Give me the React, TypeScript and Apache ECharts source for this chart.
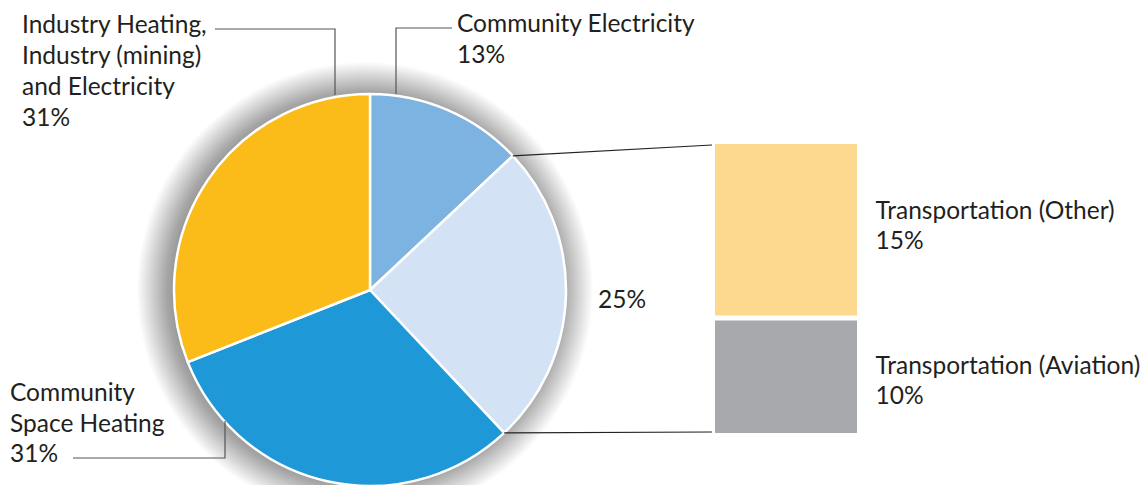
import React, { useEffect, useRef } from "react";
import * as echarts from "echarts";

const sliceNames = ["Community Electricity", "Transportation", "Community Space Heating", "Industry Heating, Industry (mining) and Electricity"];
const sliceValues = [13, 25, 31, 31];
const sliceLabelLines = [["Community Electricity"], [], ["Community", "Space Heating"], ["Industry Heating,", "Industry (mining)", "and Electricity"]];
const sliceColors = ["#7DB3E1", "#D3E3F5", "#1E98D6", "#FBBC1A"];

const transportNames = ["Transportation (Other)", "Transportation (Aviation)"];
const transportValues = [15, 10];
const transportColors = ["#FDD98F", "#A7A9AC"];

const FONT = "Lato";
const FS = 24.5;
const TXT = "#231F20";

export default function App() {
  const ref = useRef<HTMLDivElement>(null);
  useEffect(() => {
    if (!ref.current) return;
    const chart = echarts.init(ref.current, null, { renderer: "svg" });
    const cx = 370, cy = 290, R = 196;
    const total = sliceValues.reduce((a, b) => a + b, 0);
    const edgePoint = (cum: number) => {
      const a = (cum / total) * Math.PI * 2;
      return [cx + R * Math.sin(a), cy - R * Math.cos(a)];
    };
    const p1 = edgePoint(sliceValues[0]);
    const p2 = edgePoint(sliceValues[0] + sliceValues[1]);
    const lbl = (i: number) => [...sliceLabelLines[i], sliceValues[i] + "%"].join("\n");
    const lineStyle = { stroke: "#555", lineWidth: 1.2, fill: null };
    const textStyle = (text: string, x: number, y: number, lh = 31) => ({
      type: "text", x, y, silent: true, z: 10,
      style: { text, font: `${FS}px ${FONT}`, fill: TXT, lineHeight: lh, verticalAlign: "top", align: "left" },
    });
    const labelOffsets = [[0, -5], [0, 3]];
    // soft drop shadow: stacked translucent discs
    const shadowCx = cx - 5;
    const shadowSteps = 38;
    const shadowDiscs = Array.from({ length: shadowSteps }, (_, k) => ({
      type: "circle", silent: true, z: 0,
      shape: { cx: shadowCx, cy, r: R - 6 + shadowSteps - k },
      style: { fill: "rgba(0,0,0,0.0135)" },
    }));
    chart.setOption({
      animation: false,
      grid: { left: 712.5, top: 141.5, width: 147, height: 294 },
      xAxis: { type: "category", data: ["Transportation"], show: false },
      yAxis: { type: "value", min: 0, max: 25, show: false },
      series: [
        {
          type: "pie", z: 2, center: [cx, cy], radius: R, startAngle: 90, clockwise: true,
          label: { show: false }, labelLine: { show: false },
          itemStyle: { borderColor: "#fff", borderWidth: 2.5 },
          data: sliceNames.map((n, i) => ({ name: n, value: sliceValues[i], itemStyle: { color: sliceColors[i] } })),
        },
        ...[1, 0].map((i) => ({
          type: "bar", name: transportNames[i], stack: "t", barWidth: "100%",
          itemStyle: { color: transportColors[i], borderColor: "#fff", borderWidth: 2.5 },
          label: {
            show: true, position: "right", distance: 16, formatter: "{a}\n{c}%", offset: labelOffsets[i],
            fontFamily: FONT, fontSize: FS, color: TXT, lineHeight: 30, align: "left",
          },
          data: [transportValues[i]],
        })),
      ],
      graphic: [
        ...shadowDiscs,
        { type: "polyline", silent: true, z: 10, shape: { points: [[215, 29], [335, 29], [335, 95]] }, style: lineStyle },
        { type: "polyline", silent: true, z: 10, shape: { points: [[452, 28], [396, 28], [396, 94]] }, style: lineStyle },
        { type: "polyline", silent: true, z: 10, shape: { points: [[73, 458], [225, 458], [225, 421]] }, style: lineStyle },
        { type: "line", silent: true, z: 10, shape: { x1: p1[0], y1: p1[1], x2: 712, y2: 145 }, style: { stroke: "#222", lineWidth: 1.2 } },
        { type: "line", silent: true, z: 10, shape: { x1: p2[0], y1: p2[1], x2: 712, y2: 432 }, style: { stroke: "#222", lineWidth: 1.2 } },
        textStyle(lbl(3), 22, 7.5),
        textStyle(lbl(0), 457, 6.5),
        textStyle(lbl(2), 10, 376.5, 30.5),
        textStyle(sliceValues[1] + "%", 598, 283, 30),
      ],
    });
    return () => chart.dispose();
  }, []);
  return <div ref={ref} style={{ position: "absolute", left: 0, top: 0, width: 1148, height: 485 }} />;
}
